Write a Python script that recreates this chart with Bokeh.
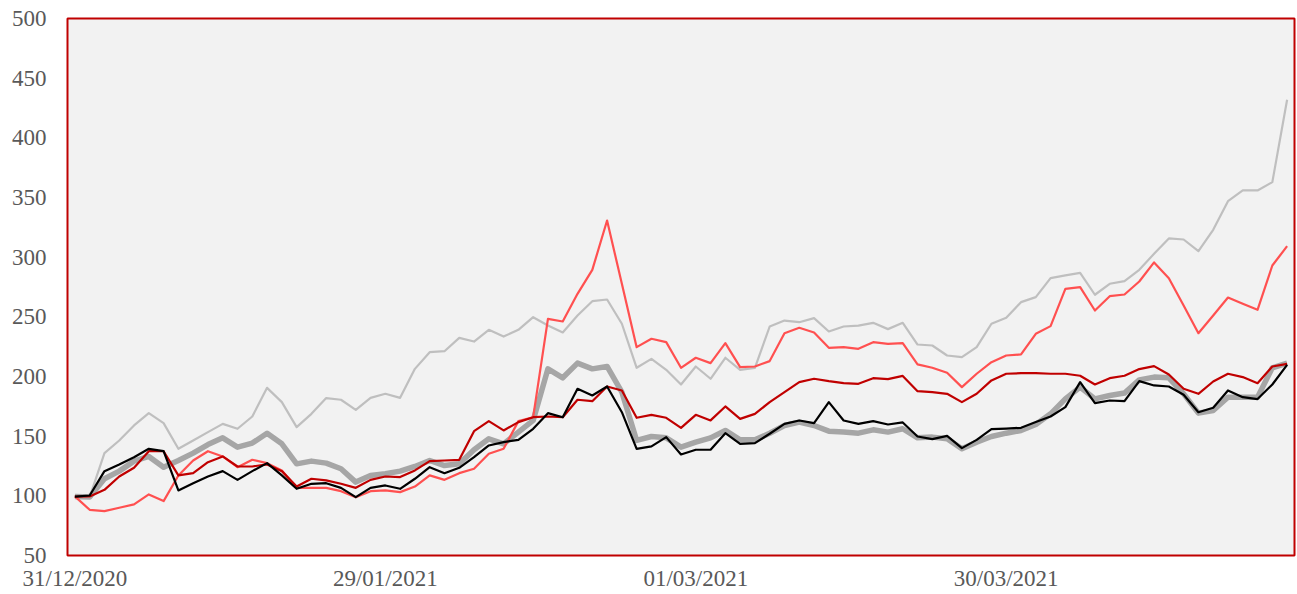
import pandas as pd
from bokeh.plotting import figure
from bokeh.models import Range1d, FixedTicker, ColumnDataSource
from bokeh.embed import file_html
from bokeh.resources import INLINE

# ---- data (trading days, 83 points) ----
dates = pd.bdate_range("2020-12-31", periods=83)
date_labels = [d.strftime("%d/%m/%Y") for d in dates]
label_every = 21

light_gray = [100, 99, 135.8, 146.4, 159, 169.3, 160.9, 139.4, 146.4, 153.4, 160.3, 156.2, 166.5, 190.5, 178.5,
              157.6, 168.7, 181.9, 180.5, 172.1, 182.1, 185.5, 182.1, 206.4, 220.4, 221.2, 232.4, 229.3, 239.1,
              233.5, 239.1, 249.7, 242.7, 236.9, 251.1, 263.1, 264.5, 244.2, 207.3, 214.8, 205.6, 193.3, 208.4,
              198.1, 215.7, 205.6, 207.3, 241.9, 246.9, 245.5, 248.9, 237.7, 241.9, 242.7, 245, 239.7, 245,
              226.8, 226, 217.6, 216.2, 224.6, 244.2, 249.2, 262.3, 266.5, 282.4, 284.7, 286.9, 268.5, 277.7,
              279.9, 289.4, 302.8, 315.7, 314.8, 305, 322.9, 346.9, 355.9, 355.9, 362.9, 431.9]

light_red = [99.5, 88.3, 87.2, 90, 92.8, 101.2, 95.6, 117.1, 129.6, 137.4, 133, 124, 130.2, 127.4, 121.3,
             106.7, 106.7, 106.7, 103.9, 98.9, 103.9, 104.5, 103.1, 107.8, 117.1, 113.4, 119, 122.7, 135.2,
             139.4, 162.6, 165.9, 248.3, 246.1, 269.3, 289.4, 330.7, 277.7, 224.6, 231.6, 228.8, 207.3, 215.7,
             211.2, 228, 207.8, 208.4, 212.9, 236.3, 240.8, 236.9, 224, 224.6, 223.2, 228.8, 227.4, 228,
             210.1, 207.3, 203.1, 191.1, 202.3, 212, 217.6, 218.5, 235.8, 242.2, 273.5, 274.9, 255.3, 267.3,
             268.7, 279.6, 295.6, 282.4, 259.5, 236.3, 251.1, 266.2, 260.9, 255.9, 293, 309.2]

dark_red = [99.4, 99.5, 105, 116.2, 123.5, 137.4, 137.4, 117.1, 119, 128.2, 133, 124.6, 124.6, 126.3, 120.7,
            107.8, 114.3, 112.9, 110.1, 106.7, 113.4, 116.2, 115.7, 121.3, 129.1, 129.6, 130.2, 154.2, 162.6,
            154.8, 161.8, 165.9, 166.5, 165.9, 180.5, 179.3, 191.6, 188.3, 165.4, 167.9, 165.4, 157, 167.9,
            163.2, 174.9, 164.5, 168.7, 178.5, 186.9, 195.3, 198.1, 196.1, 194.4, 193.9, 198.6, 197.8, 200.5,
            187.7, 186.9, 185.5, 178.5, 185.5, 196.7, 202.3, 202.8, 202.8, 202.3, 202.3, 200.6, 193.3, 198.6,
            200.6, 206.2, 208.7, 201.7, 189.7, 185.5, 195.8, 202.3, 199.5, 194.4, 208.4, 210.6]

thick_gray = [99.4, 99, 114.3, 120.7, 129.1, 133, 124, 129.6, 135.8, 143, 148.6, 140.8, 144.2, 152.5, 143.6,
              126.8, 129.1, 127.4, 122.7, 111.5, 117.1, 118.5, 120.7, 124.6, 129.6, 125.4, 126.8, 138.6, 147.8,
              143.6, 153.4, 163.2, 206.4, 198.9, 211.2, 206.4, 208.4, 186.9, 146.4, 149.7, 148.6, 140.8, 145,
              148.6, 154.8, 146.9, 146.9, 152.5, 158.9, 161.8, 158.9, 154.2, 153.4, 152.5, 155.3, 153.4, 156.2,
              148.6, 149.2, 147.8, 139.4, 145, 149.7, 152.5, 154.8, 159.8, 168.7, 181.3, 191.1, 181.3, 184.1,
              186.1, 197.2, 199.5, 198.9, 185.5, 169.3, 171.5, 182.7, 182.7, 182.7, 207.3, 211.2]

black = [99.4, 100.3, 120.7, 126.3, 132.4, 139.4, 137.4, 104.5, 110.6, 116.2, 120.7, 113.4, 120.7, 127.4, 117.1,
         105.9, 110.1, 110.6, 106.7, 98.9, 106.7, 108.7, 105.9, 114.3, 124, 119, 123.5, 132.4, 142.2,
         145, 146.9, 156.2, 169.3, 165.9, 189.7, 184.1, 191.6, 170.1, 139.4, 141.4, 149.2, 134.7, 138.6,
         138.6, 152.5, 143.6, 144.2, 152, 160.3, 163.1, 160.9, 178.5, 163.1, 160.3, 162.6, 159.8, 161.5,
         149.7, 147.5, 150.3, 140, 146.9, 155.9, 156.4, 157, 161.8, 166.5, 174.3, 195.3, 177.7, 179.9,
         179.3, 196.1, 192.5, 191.6, 184.7, 170.1, 173.8, 188.3, 182.7, 181.1, 193.3, 209.8]

y_ticks = list(range(50, 501, 50))

# ---- figure ----
FONT = "Liberation Serif"
LABEL_COLOR = "#595959"

p = figure(width=1297, height=594, output_backend="svg", toolbar_location=None,
           x_range=Range1d(-0.5, len(dates) - 0.5), y_range=Range1d(50, 500))
p.min_border_left = 67
p.min_border_right = 3
p.min_border_top = 18
p.min_border_bottom = 39

p.background_fill_color = "#F2F2F2"
p.border_fill_color = "white"
p.outline_line_color = "#C00000"
p.outline_line_width = 2
p.xgrid.visible = False
p.ygrid.visible = False

src = ColumnDataSource(dict(x=list(range(len(dates))), lg=light_gray, lr=light_red,
                            dr=dark_red, tg=thick_gray, bk=black))

p.line("x", "tg", source=src, line_color="#A6A6A6", line_width=5.5, line_join="round")
p.line("x", "lg", source=src, line_color="#BFBFBF", line_width=2.2, line_join="round")
p.line("x", "lr", source=src, line_color="#FF5050", line_width=2.2, line_join="round")
p.line("x", "dr", source=src, line_color="#C00000", line_width=2.2, line_join="round")
p.line("x", "bk", source=src, line_color="#000000", line_width=2.2, line_join="round")

xt = list(range(0, len(dates), label_every))
p.xaxis.ticker = FixedTicker(ticks=xt)
p.xaxis.major_label_overrides = {i: date_labels[i] for i in xt}
p.yaxis.ticker = FixedTicker(ticks=y_ticks)

for ax in (p.xaxis[0], p.yaxis[0]):
    ax.axis_line_color = None
    ax.major_tick_line_color = None
    ax.minor_tick_line_color = None
    ax.major_label_text_font = FONT
    ax.major_label_text_font_size = "23px"
    ax.major_label_text_color = LABEL_COLOR
p.yaxis.major_label_standoff = 15
p.xaxis.major_label_standoff = 4

open("out.html", "w").write(file_html(p, INLINE))
